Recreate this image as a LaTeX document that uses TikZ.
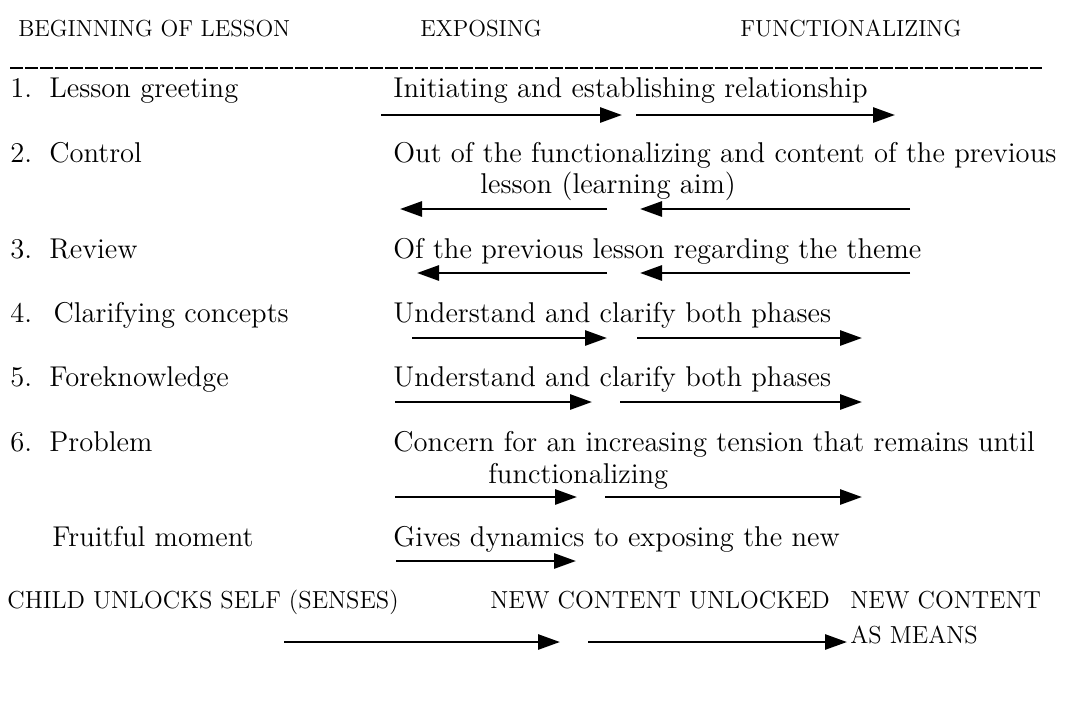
\documentclass[tikz,border=0pt]{standalone}
\usepackage{tikz}
\usetikzlibrary{arrows.meta}

\tikzset{
  head/.style={anchor=base west, font=\fontsize{11.6}{13}\selectfont, inner sep=0pt},
  item/.style={anchor=base west, font=\fontsize{14.3}{16}\selectfont, inner sep=0pt},
  caps/.style={anchor=base west, font=\fontsize{12.3}{14}\selectfont, inner sep=0pt},
  flow/.style={line width=1.4pt, -{Triangle[length=11pt,width=7.5pt]}}
}

\begin{document}
\begin{tikzpicture}[x=0.5pt, y=-0.5pt]
  \useasboundingbox (0,0) rectangle (1075,703);

  % headings
  \node[head] (begin) at (18,36) {BEGINNING OF LESSON};
  \node[head] (expo) at (420,36) {EXPOSING};
  \node[head] (func) at (740,36) {FUNCTIONALIZING};
  \coordinate (rulel) at (10,68);
  \coordinate (ruler) at (1042,68);
  \draw[line width=0.7pt, dash pattern=on 6.5pt off 1pt] (rulel) -- (ruler);

  % phases of the lesson
  \node[item] (s1) at (10,97) {1.\hspace{0.6em}Lesson greeting};
  \node[item] (s2) at (10,162) {2.\hspace{0.6em}Control};
  \node[item] (s3) at (10,258) {3.\hspace{0.6em}Review};
  \node[item] (s4) at (10,322) {4.\hspace{0.75em}Clarifying concepts};
  \node[item] (s5) at (10,386) {5.\hspace{0.6em}Foreknowledge};
  \node[item] (s6) at (10,451) {6.\hspace{0.6em}Problem};
  \node[item] (s7) at (52,546) {Fruitful moment};

  \node[item] (t1) at (393,97) {Initiating and establishing relationship};
  \node[item] (t2) at (393,162) {Out of the functionalizing and content of the previous};
  \node[item] (t2b) at (480,193) {lesson (learning aim)};
  \node[item] (t3) at (393,258) {Of the previous lesson regarding the theme};
  \node[item] (t4) at (393,322) {Understand and clarify both phases};
  \node[item] (t5) at (393,386) {Understand and clarify both phases};
  \node[item] (t6) at (393,451) {Concern for an increasing tension that remains until};
  \node[item] (t6b) at (488,483) {functionalizing};
  \node[item] (t7) at (393,546) {Gives dynamics to exposing the new};

  % bottom line
  \node[caps] (child) at (7,608) {CHILD UNLOCKS SELF (SENSES)};
  \node[caps] (unlock) at (490,608) {NEW CONTENT UNLOCKED};
  \node[caps] (means) at (850,608) {NEW CONTENT};
  \node[caps] (means2) at (850,643) {AS MEANS};

  % arrows
  \foreach \n/\xa/\xb/\y in {a1/381/622/115, b1/636/895/115,
      a2/607/400/209, b2/910/640/209,
      a3/607/417/273, b3/910/640/273,
      a4/412/607/338, b4/637/862/338,
      a5/395/592/402, b5/620/862/402,
      a6/395/577/497, b6/605/862/497,
      a7/396/576/561,
      a8/284/560/642, b8/588/847/642} {
    \coordinate (\n s) at (\xa,\y);
    \coordinate (\n e) at (\xb,\y);
    \draw[flow] (\n s) -- (\n e);
  }
\end{tikzpicture}
\end{document}
